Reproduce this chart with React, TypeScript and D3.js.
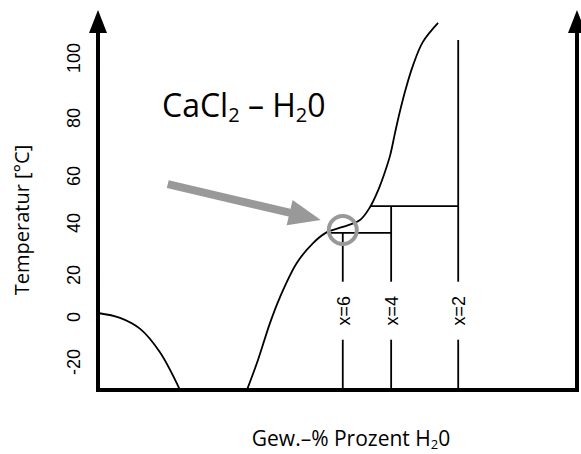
import React from "react";
import * as d3 from "d3";

// ---- data ----
const Y_TICKS = [-20, 0, 20, 40, 60, 80, 100];
const ICE_H2O = [100, 95.4, 91.2, 87.1, 82.9];
const ICE_T = [1.9, -0.4, -5.3, -15.6, -32.4];
const LIQ_H2O = [68.9, 66.6, 64.1, 62.0, 58.5, 55.1, 52.2, 48.9, 45.3, 43.2, 41.5, 40.1, 39.0, 38.0, 37.0, 35.7, 34.2, 32.2, 29.0];
const LIQ_T = [-32.4, -19.1, -2.7, 9.5, 24.6, 32.3, 36.5, 38.5, 41.3, 46.8, 54.0, 61.4, 67.2, 74.8, 82.0, 90.0, 97.7, 105.3, 111.7];
const HYD_LABELS = ["x=6", "x=4", "x=2"];
const HYD_H2O = [48.9, 38.8, 24.8];
const HYD_TOP_T = [36.2, 47.2, 106];
const PERI_T = [36.2, 47.2];
const PERI_FROM = [51.6, 43.2];
const PERI_TO = [38.8, 24.8];
const MARK_H2O = 48.9;
const MARK_T = 37.3;
const LABEL_T = 3;

const W = 581;
const H = 454;

export default function App() {
  const x = d3.scaleLinear().domain([100, 0]).range([98, 577]);
  const y = d3
    .scaleLinear()
    .domain([-20, 0, 20, 40, 60, 80, 100])
    .range([362, 317, 275, 223, 176, 118, 58]);
  const yBottom = y(-32.4);
  const yTop = y(116);

  const line = d3
    .line<[number, number]>()
    .x((d) => x(d[0]))
    .y((d) => y(d[1]))
    .curve(d3.curveCatmullRom.alpha(0.5));

  const ice = line(ICE_H2O.map((h, i) => [h, ICE_T[i]] as [number, number])) || "";
  const liq = line(LIQ_H2O.map((h, i) => [h, LIQ_T[i]] as [number, number])) || "";

  const labelY = y(LABEL_T);
  const gap = 29;

  const cx = x(MARK_H2O);
  const cy = y(MARK_T);
  // arrow
  const tail = [cx - 175, cy - 46];
  const tip = [cx - 22, cy - 10];
  const ang = Math.atan2(tip[1] - tail[1], tip[0] - tail[0]);
  const headLen = 32;
  const headHalf = 13;
  const ux = Math.cos(ang), uy = Math.sin(ang);
  const bx = tip[0] - ux * headLen, by = tip[1] - uy * headLen;
  const head = [
    [tip[0], tip[1]],
    [bx - uy * headHalf, by + ux * headHalf],
    [bx + uy * headHalf, by - ux * headHalf],
  ]
    .map((p) => p.join(","))
    .join(" ");

  const axisArrow = (ax: number) =>
    `${ax},${yTop} ${ax - 9},${yTop + 23} ${ax + 9},${yTop + 23}`;

  const sansT = "'Open Sans', 'Noto Sans', sans-serif";
  const arial = "'Liberation Sans', Arial, sans-serif";

  return (
    <svg
      width={W}
      height={H}
      style={{ position: "absolute", left: 0, top: 0, background: "#fff" }}
    >
      <rect width={W} height={H} fill="#fff" />
      {/* curves */}
      <path d={ice} fill="none" stroke="#000" strokeWidth={1.8} />
      <path d={liq} fill="none" stroke="#000" strokeWidth={1.8} />

      {/* peritectic horizontals */}
      {PERI_T.map((t, i) => (
        <line
          key={"p" + i}
          x1={x(PERI_FROM[i])}
          x2={x(PERI_TO[i])}
          y1={y(t)}
          y2={y(t)}
          stroke="#000"
          strokeWidth={1.8}
        />
      ))}

      {/* hydrate verticals */}
      {HYD_LABELS.map((lab, i) => {
        const lx = x(HYD_H2O[i]);
        return (
          <g key={lab}>
            <line x1={lx} x2={lx} y1={y(HYD_TOP_T[i])} y2={labelY - gap} stroke="#000" strokeWidth={1.8} />
            <line x1={lx} x2={lx} y1={labelY + gap} y2={yBottom} stroke="#000" strokeWidth={1.8} />
            <text
              transform={`translate(${lx + 7},${labelY}) rotate(-90)`}
              textAnchor="middle"
              fontFamily={arial}
              fontSize={18}
              fill="#000"
            >
              {lab}
            </text>
          </g>
        );
      })}

      {/* axes */}
      <line x1={98} x2={98} y1={yBottom + 2} y2={yTop + 20} stroke="#000" strokeWidth={4} />
      <line x1={577} x2={577} y1={yBottom + 2} y2={yTop + 20} stroke="#000" strokeWidth={4} />
      <line x1={96} x2={579} y1={yBottom} y2={yBottom} stroke="#000" strokeWidth={4} />
      <polygon points={axisArrow(98)} fill="#000" />
      <polygon points={axisArrow(577)} fill="#000" />

      {/* y tick labels */}
      {Y_TICKS.map((t) => (
        <text
          key={t}
          transform={`translate(80,${y(t)}) rotate(-90)`}
          textAnchor="middle"
          fontFamily={arial}
          fontSize={18}
          fill="#000"
        >
          {t}
        </text>
      ))}

      {/* highlight circle and arrow */}
      <circle cx={cx} cy={cy} r={14} fill="none" stroke="#999" strokeWidth={4} />
      <line
        x1={tail[0]}
        y1={tail[1]}
        x2={bx + ux * 2}
        y2={by + uy * 2}
        stroke="#999"
        strokeWidth={8}
      />
      <polygon points={head} fill="#999" />

      {/* title */}
      <text x={162} y={117} fontFamily={sansT} fontSize={32} fill="#000">
        CaCl
        <tspan fontSize={20} dy={5}>2</tspan>
        <tspan dy={-5}> – H</tspan>
        <tspan fontSize={20} dy={5}>2</tspan>
        <tspan dy={-5}>0</tspan>
      </text>

      {/* axis titles */}
      <text
        transform={`translate(29,220) rotate(-90)`}
        textAnchor="middle"
        fontFamily={sansT}
        fontSize={20}
        fill="#000"
      >
        Temperatur [°C]
      </text>
      <text x={351} y={446} textAnchor="middle" fontFamily={sansT} fontSize={21} fill="#000">
        Gew.–% Prozent H
        <tspan fontSize={13} dy={3}>2</tspan>
        <tspan dy={-3}>0</tspan>
      </text>
    </svg>
  );
}
